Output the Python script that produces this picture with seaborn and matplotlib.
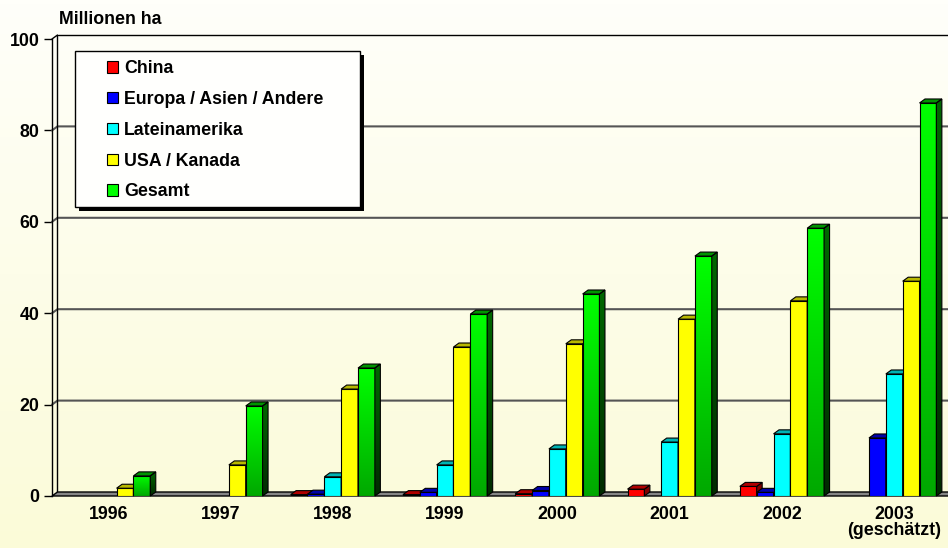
import numpy as np
import pandas as pd
import matplotlib
matplotlib.use('Agg')
import matplotlib.pyplot as plt
from matplotlib.patches import Polygon, Rectangle, Patch
import seaborn as sns

# data (Millionen ha)
years = ['1996', '1997', '1998', '1999', '2000', '2001', '2002', '2003\n(geschätzt)']
regions = ['China', 'Europa / Asien / Andere', 'Lateinamerika', 'USA / Kanada', 'Gesamt']
china = [0, 0, 0.3, 0.3, 0.5, 1.5, 2.1, 0]
europa = [0, 0, 0.4, 0.8, 1.2, 0, 0.8, 12.7]
latein = [0, 0, 4.2, 6.8, 10.3, 11.8, 13.6, 26.7]
usa = [1.7, 6.8, 23.4, 32.6, 33.3, 38.7, 42.7, 47.0]
gesamt = [4.4, 19.7, 28.0, 39.8, 44.2, 52.5, 58.6, 86.0]
y_ticks = [0, 20, 40, 60, 80, 100]

front_colors = ['#FF0000', '#0000FF', '#00FFFF', '#FFFF00', '#00FF00']
top_colors = ['#B00000', '#0000A8', '#00B4B4', '#B8B800', '#009400']
side_colors = ['#800000', '#000070', '#007878', '#808000', '#006000']


def gradient(c_top, c_bottom, n=128):
    a = np.array(matplotlib.colors.to_rgb(c_top))
    b = np.array(matplotlib.colors.to_rgb(c_bottom))
    t = np.linspace(0, 1, n).reshape(-1, 1, 1)
    return a * (1 - t) + b * t


def plot_chart():
    sns.set_theme(style='white')
    plt.rcParams['font.family'] = ['Liberation Sans', 'DejaVu Sans']
    plt.rcParams['font.weight'] = 'bold'
    for key in ['text.color', 'axes.labelcolor', 'xtick.color', 'ytick.color']:
        plt.rcParams[key] = 'black'
    fs = 12.8

    W, H = 948, 548
    fig = plt.figure(figsize=(W / 100, H / 100), dpi=100)

    # background gradient
    bg = fig.add_axes([0, 0, 1, 1], zorder=-10)
    bg.imshow(gradient('#FFFFFA', '#FBFBD8'), aspect='auto', extent=(0, 1, 0, 1))
    bg.axis('off')

    group_px = 112.3
    ax_left, ax_w = 52, 896
    floor_y, top_y = 496, 39
    ax = fig.add_axes([ax_left / W, (H - floor_y) / H, ax_w / W, (floor_y - top_y) / H])
    ax.set_facecolor('none')

    xmin, xmax = -0.5, -0.5 + ax_w / group_px
    ymin, ymax = 0, 100
    px_per_unit = (floor_y - top_y) / 100
    ddx = 5.5 / group_px
    ddy = 4.0 / px_per_unit

    df = pd.DataFrame({
        'Jahr': years * 5,
        'Region': np.repeat(regions, len(years)),
        'Wert': china + europa + latein + usa + gesamt,
    })

    sns.barplot(data=df, x='Jahr', y='Wert', hue='Region', order=years,
                hue_order=regions, palette=front_colors, saturation=1,
                width=0.75, gap=0, errorbar=None, edgecolor='black',
                linewidth=0.8, legend=False, ax=ax)

    # back wall gridlines with a short diagonal on the side wall
    for v in y_ticks[1:-1]:
        ax.plot([xmin, xmin + ddx, xmax + ddx], [v, v + ddy, v + ddy],
                color='#555555', lw=1.5, zorder=1, clip_on=False)
    # side wall and back wall border
    ax.plot([xmin, xmin + ddx, xmin + ddx], [ymax, ymax + ddy, ddy],
            color='black', lw=1, zorder=1, clip_on=False)
    ax.plot([xmin + ddx, xmax + ddx], [ymax + ddy, ymax + ddy],
            color='black', lw=1, zorder=1, clip_on=False)
    # floor
    ax.add_patch(Polygon([(xmin, 0), (xmin + ddx, ddy), (xmax + ddx, ddy), (xmax, 0)],
                         closed=True, facecolor='#858585', edgecolor='black',
                         lw=1, zorder=2, clip_on=False))

    # 3d faces for each bar
    for i, cont in enumerate(ax.containers):
        z = 3 + i
        for bar in cont:
            x, w, h = bar.get_x(), bar.get_width(), bar.get_height()
            bar.set_zorder(z)
            if not h > 0:
                bar.set_visible(False)
                continue
            side = Polygon([(x + w, 0), (x + w + ddx, ddy), (x + w + ddx, h + ddy), (x + w, h)],
                           closed=True, facecolor=side_colors[i], edgecolor='black',
                           lw=0.8, zorder=z + 0.3, clip_on=False)
            top = Polygon([(x, h), (x + ddx, h + ddy), (x + w + ddx, h + ddy), (x + w, h)],
                          closed=True, facecolor=top_colors[i], edgecolor='black',
                          lw=0.8, zorder=z + 0.3, clip_on=False)
            ax.add_patch(side)
            ax.add_patch(top)
            if regions[i] == 'Gesamt':
                bar.set_facecolor('none')
                bar.set_zorder(z + 0.2)
                im = ax.imshow(gradient('#00FF00', '#00A800'), extent=(x, x + w, 0, h),
                               aspect='auto', zorder=z + 0.1, interpolation='bilinear')
                im.set_clip_path(bar)
                side.set_facecolor('none')
                side.set_zorder(z + 0.4)
                im2 = ax.imshow(gradient('#006800', '#002A00'),
                                extent=(x + w, x + w + ddx, 0, h + ddy),
                                aspect='auto', zorder=z + 0.25, interpolation='bilinear')
                im2.set_clip_path(side)

    ax.set_xlim(xmin, xmax)
    ax.set_ylim(ymin, ymax)

    for s in ['top', 'right', 'bottom']:
        ax.spines[s].set_visible(False)
    ax.spines['left'].set_color('black')
    ax.spines['left'].set_linewidth(1)
    ax.spines['left'].set_zorder(2)

    ax.set_yticks(y_ticks)
    ax.tick_params(axis='y', direction='out', length=6, width=1, color='black',
                   pad=3, labelsize=fs, left=True, labelcolor='black')
    ax.tick_params(axis='x', length=0, pad=7, labelsize=fs, labelcolor='black')
    for lab in ax.get_xticklabels():
        lab.set_linespacing(0.95)
        lab.set_fontweight('bold')
    for lab in ax.get_yticklabels():
        lab.set_fontweight('bold')
    ax.set_xlabel('')
    ax.set_ylabel('')

    fig.text(59 / W, 1 - 20 / H, 'Millionen ha', fontsize=fs, fontweight='bold',
             color='black', ha='left', va='center')

    # legend box with hard shadow
    bx0, by0, bx1, by1 = 75, 51, 360, 207
    fig.patches.append(Rectangle(((bx0 + 4) / W, 1 - (by1 + 4) / H), (bx1 - bx0) / W,
                                 (by1 - by0) / H, transform=fig.transFigure,
                                 facecolor='black', edgecolor='none', zorder=5))
    fig.patches.append(Rectangle((bx0 / W, 1 - by1 / H), (bx1 - bx0) / W,
                                 (by1 - by0) / H, transform=fig.transFigure,
                                 facecolor='#FFFFFD', edgecolor='black', lw=1, zorder=5.1))

    handles = [Patch(facecolor=c, edgecolor='black', lw=0.8) for c in front_colors]
    leg = fig.legend(handles=handles, labels=regions, loc='upper left',
                     bbox_to_anchor=(107 / W, 1 - 60 / H), bbox_transform=fig.transFigure,
                     frameon=False, borderpad=0, borderaxespad=0, fontsize=fs,
                     handlelength=0.62, handleheight=0.62, handletextpad=0.35,
                     labelspacing=0.78, labelcolor='black',
                     prop={'weight': 'bold', 'size': fs})
    leg.set_zorder(6)

    fig.savefig('out.png', dpi=100)
    plt.close(fig)


if __name__ == '__main__':
    plot_chart()
